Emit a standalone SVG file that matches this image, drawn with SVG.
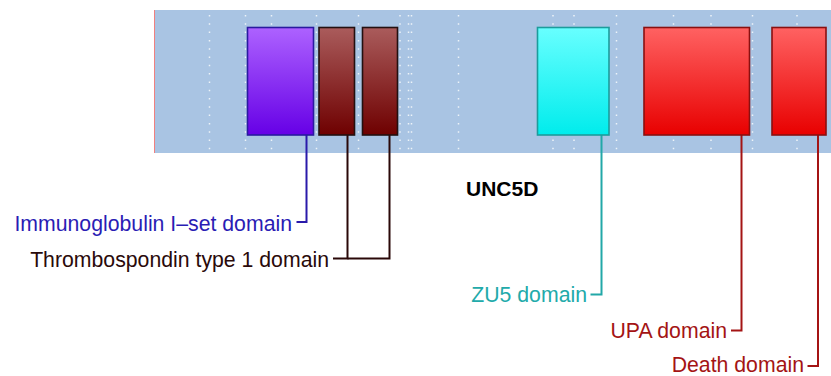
<svg xmlns="http://www.w3.org/2000/svg" width="831" height="376" viewBox="0 0 831 376">
<defs>
<linearGradient id="gIg" x1="0" y1="0" x2="0" y2="1"><stop offset="0" stop-color="#ad62ff"/><stop offset="1" stop-color="#6600e6"/></linearGradient>
<linearGradient id="gTh" x1="0" y1="0" x2="0" y2="1"><stop offset="0" stop-color="#aa5c5c"/><stop offset="1" stop-color="#6e0000"/></linearGradient>
<linearGradient id="gZu" x1="0" y1="0" x2="0" y2="1"><stop offset="0" stop-color="#68ffff"/><stop offset="1" stop-color="#00ecec"/></linearGradient>
<linearGradient id="gRd" x1="0" y1="0" x2="0" y2="1"><stop offset="0" stop-color="#ff6262"/><stop offset="1" stop-color="#e80000"/></linearGradient>
</defs>
<style>
.dots line{stroke:#ffffff;stroke-width:1.5;stroke-dasharray:1.5 6.8;opacity:0.8}
.lbl{font-family:"Liberation Sans",Arial,sans-serif;font-size:21.25px;text-anchor:end}
.con{fill:none;stroke-width:2}
.box{stroke-width:1.6}
</style>
<rect x="154" y="10" width="677" height="143" fill="#a9c4e3"/>
<line x1="154.5" y1="10" x2="154.5" y2="153" stroke="#f08080" stroke-width="1"/>
<g class="dots">
<line x1="209.5" y1="15" x2="209.5" y2="150"/>
<line x1="245.5" y1="15" x2="245.5" y2="150"/>
<line x1="271.5" y1="15" x2="271.5" y2="150"/>
<line x1="316.5" y1="15" x2="316.5" y2="150"/>
<line x1="358.5" y1="15" x2="358.5" y2="150"/>
<line x1="400" y1="15" x2="400" y2="150"/>
<line x1="408.5" y1="15" x2="408.5" y2="150"/>
<line x1="411.5" y1="15" x2="411.5" y2="150"/>
<line x1="458.5" y1="15" x2="458.5" y2="150"/>
<line x1="553" y1="15" x2="553" y2="150"/>
<line x1="574" y1="15" x2="574" y2="150"/>
<line x1="616.5" y1="15" x2="616.5" y2="150"/>
<line x1="673.5" y1="15" x2="673.5" y2="150"/>
<line x1="711" y1="15" x2="711" y2="150"/>
<line x1="752.5" y1="15" x2="752.5" y2="150"/>
<line x1="797" y1="15" x2="797" y2="150"/>
</g>
<g id="connectors">
<polyline class="con" stroke="#2a1aaa" points="306.5,135 306.5,222 296.5,222"/>
<polyline class="con" stroke="#2a0808" points="347.5,135 347.5,258.5 333,258.5"/>
<polyline class="con" stroke="#2a0808" points="389.5,135 389.5,258.5 347.5,258.5"/>
<polyline class="con" stroke="#22a8a8" points="601.5,135 601.5,294.5 590.5,294.5"/>
<polyline class="con" stroke="#a41414" points="741.5,135 741.5,330.5 731,330.5"/>
<polyline class="con" stroke="#a41414" points="818,135 818,366 807.5,366"/>
</g>
<g id="ig">
<rect class="box" x="247.5" y="27.5" width="66" height="107.5" fill="url(#gIg)" stroke="#2a1aa0"/>
<text class="lbl" x="292" y="230.5" fill="#2a1cb4">Immunoglobulin I–set domain</text>
</g>
<g id="tsp1">
<rect class="box" x="319" y="27.5" width="35.5" height="107.5" fill="url(#gTh)" stroke="#241010"/>
<rect class="box" x="362.5" y="27.5" width="35" height="107.5" fill="url(#gTh)" stroke="#241010"/>
<text class="lbl" x="329" y="266.5" fill="#2a0a0a">Thrombospondin type 1 domain</text>
</g>
<g id="zu5">
<rect class="box" x="537.5" y="27.5" width="71.5" height="107.5" fill="url(#gZu)" stroke="#1c9c9c"/>
<text class="lbl" x="587" y="302" fill="#22aaaa">ZU5 domain</text>
</g>
<g id="upa">
<rect class="box" x="644" y="27.5" width="105.5" height="107.5" fill="url(#gRd)" stroke="#8a1010"/>
<text class="lbl" x="727" y="337.5" fill="#a41414">UPA domain</text>
</g>
<g id="death">
<rect class="box" x="772" y="27.5" width="54" height="107.5" fill="url(#gRd)" stroke="#8a1010"/>
<text class="lbl" x="804" y="372" fill="#a41414">Death domain</text>
</g>
<g id="title">
<text x="466" y="195.5" font-family="'Liberation Sans',Arial,sans-serif" font-size="21" font-weight="bold" fill="#000000">UNC5D</text>
</g>
</svg>
